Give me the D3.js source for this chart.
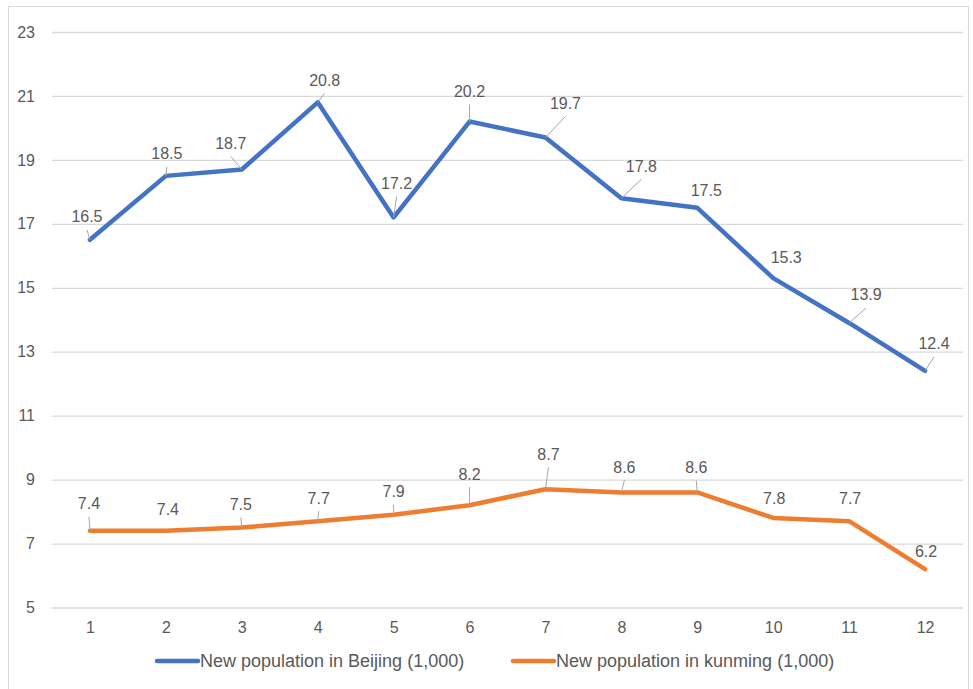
<!DOCTYPE html>
<html>
<head>
<meta charset="utf-8">
<script src="https://cdn.jsdelivr.net/npm/d3@7"></script>
<style>
  html, body { margin: 0; padding: 0; background: #ffffff; }
  svg { display: block; font-family: "Liberation Sans", Arial, sans-serif; }
</style>
</head>
<body>
<svg id="chart" width="973" height="689"></svg>
<script>
// Months on the x axis
const months = [1, 2, 3, 4, 5, 6, 7, 8, 9, 10, 11, 12];
// Monthly new population, in thousands
const beijing = [16.5, 18.5, 18.7, 20.8, 17.2, 20.2, 19.7, 17.8, 17.5, 15.3, 13.9, 12.4];
const kunming = [7.4, 7.4, 7.5, 7.7, 7.9, 8.2, 8.7, 8.6, 8.6, 7.8, 7.7, 6.2];
// Value-axis ticks
const yTicks = [5, 7, 9, 11, 13, 15, 17, 19, 21, 23];
const seriesNames = ["New population in Beijing (1,000)", "New population in kunming (1,000)"];

// Where each data label sits relative to its point: [dx, dy, draw leader line]
const beijingLabelPos = [
  [-3, -23, 1], [1, -22, 1], [-11, -26, 1], [7, -22, 1], [3, -34, 1], [0, -30, 1],
  [20, -34, 1], [20, -32, 1], [9, -17, 0], [13, -21, 0], [17, -28, 1], [9, -27, 1]
];
const kunmingLabelPos = [
  [-1, -27, 1], [2, -21, 0], [-1, -23, 1], [1, -23, 1], [0, -23, 1], [0, -31, 1],
  [3, -35, 1], [3, -25, 1], [-1, -25, 1], [1, -19, 0], [1, -23, 0], [1, -18, 0]
];

const colors = ["#4472C4", "#ED7D31"];
const textColor = "#595959";
const gridColor = "#D9D9D9";

const svg = d3.select("#chart");

// Chart-area border
svg.append("rect")
  .attr("x", 8.5).attr("y", 6.5)
  .attr("width", 960).attr("height", 700)
  .attr("fill", "#ffffff")
  .attr("stroke", "#D9D9D9").attr("stroke-width", 1);

const plot = { left: 52, right: 963, top: 32, bottom: 607.5 };

const x = d3.scalePoint()
  .domain(months)
  .range([plot.left, plot.right])
  .padding(0.5);

const y = d3.scaleLinear()
  .domain([5, 23])
  .range([plot.bottom, plot.top]);

// Horizontal gridlines with value labels
const yAxis = d3.axisLeft(y)
  .tickValues(yTicks)
  .tickSize(-(plot.right - plot.left))
  .tickPadding(17)
  .tickFormat(d3.format("d"));

const gy = svg.append("g")
  .attr("transform", `translate(${plot.left},0)`)
  .call(yAxis);
gy.select(".domain").remove();
gy.selectAll(".tick line").attr("stroke", gridColor).attr("stroke-width", 1.3);
gy.selectAll(".tick text")
  .attr("fill", textColor)
  .style("font-size", "16px")
  .style("font-family", "Liberation Sans, Arial, sans-serif");

// Category labels along the bottom
const xAxis = d3.axisBottom(x).tickSize(0).tickPadding(14);
const gx = svg.append("g")
  .attr("transform", `translate(0,${plot.bottom})`)
  .call(xAxis);
gx.select(".domain").remove();
gx.selectAll(".tick text")
  .attr("fill", textColor)
  .style("font-size", "16px")
  .style("font-family", "Liberation Sans, Arial, sans-serif");

const line = d3.line()
  .x((d, i) => x(months[i]))
  .y(d => y(d));

const series = [
  { values: beijing, color: colors[0], labelPos: beijingLabelPos },
  { values: kunming, color: colors[1], labelPos: kunmingLabelPos }
];

series.forEach(s => {
  svg.append("path")
    .datum(s.values)
    .attr("fill", "none")
    .attr("stroke", s.color)
    .attr("stroke-width", 4.5)
    .attr("stroke-linejoin", "round")
    .attr("stroke-linecap", "round")
    .attr("d", line);
});

// Data labels, with leader lines running from the point up to just under the label
series.forEach(s => {
  const g = svg.append("g");
  s.values.forEach((v, i) => {
    const px = x(months[i]);
    const py = y(v);
    const [dx, dy, leader] = s.labelPos[i];
    const lx = px + dx;
    const ly = py + dy;
    if (leader) {
      const ex = lx;
      const ey = Math.min(ly + 13, py);
      g.append("line")
        .attr("x1", px).attr("y1", py)
        .attr("x2", ex).attr("y2", ey)
        .attr("stroke", "#A6A6A6")
        .attr("stroke-width", 1);
    }
    g.append("text")
      .attr("x", lx)
      .attr("y", ly)
      .attr("text-anchor", "middle")
      .attr("dominant-baseline", "central")
      .attr("fill", textColor)
      .style("font-size", "16px")
      .text(d3.format(".1f")(v));
  });
});

// Legend
const legendItems = [
  { name: seriesNames[0], color: colors[0], x: 157 },
  { name: seriesNames[1], color: colors[1], x: 513 }
];
const legendY = 661;
legendItems.forEach(item => {
  svg.append("line")
    .attr("x1", item.x).attr("x2", item.x + 41)
    .attr("y1", legendY).attr("y2", legendY)
    .attr("stroke", item.color)
    .attr("stroke-width", 4.5)
    .attr("stroke-linecap", "round");
  svg.append("text")
    .attr("x", item.x + 43)
    .attr("y", legendY)
    .attr("dominant-baseline", "central")
    .attr("fill", textColor)
    .style("font-size", "18px")
    .text(item.name);
});
</script>
</body>
</html>
